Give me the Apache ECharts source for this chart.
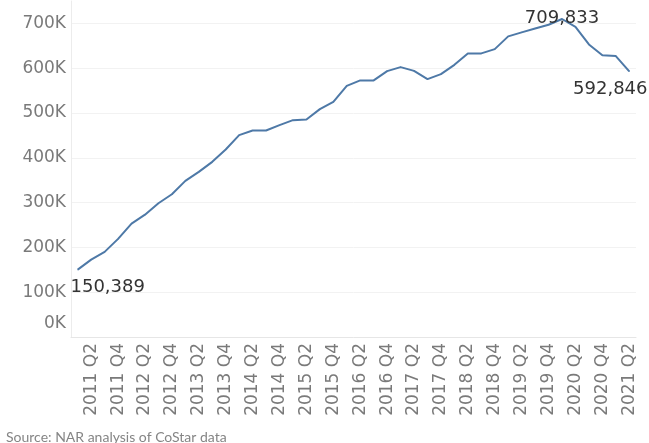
<!DOCTYPE html>
<html lang="en">
<head>
    <meta charset="UTF-8">
    <title>Sales volume by quarter</title>
    <style>
        body{margin:0;background-color:#FFFFFF}
        #main{width:649px;height:443px}
    </style>
</head>
<script src="https://cdn.jsdelivr.net/npm/echarts@6/dist/echarts.min.js"></script>
<body>
<div id="main"></div>
<script>
    // quarters, 2011 Q1 .. 2021 Q2 (only Q2/Q4 are labelled on the axis)
    var quarters = ['2011 Q1','2011 Q2','2011 Q3','2011 Q4','2012 Q1','2012 Q2','2012 Q3','2012 Q4',
        '2013 Q1','2013 Q2','2013 Q3','2013 Q4','2014 Q1','2014 Q2','2014 Q3','2014 Q4',
        '2015 Q1','2015 Q2','2015 Q3','2015 Q4','2016 Q1','2016 Q2','2016 Q3','2016 Q4',
        '2017 Q1','2017 Q2','2017 Q3','2017 Q4','2018 Q1','2018 Q2','2018 Q3','2018 Q4',
        '2019 Q1','2019 Q2','2019 Q3','2019 Q4','2020 Q1','2020 Q2','2020 Q3','2020 Q4',
        '2021 Q1','2021 Q2'];
    var values = [150389, 172800, 190000, 219000, 253000, 273000, 298600, 318700,
        348500, 368600, 391000, 418600, 450500, 461000, 461000, 472900,
        484000, 485600, 508600, 525000, 560700, 572700, 572700, 593500,
        602400, 594000, 575600, 586800, 607500, 633000, 633000, 642600,
        671000, 680000, 688800, 697000, 709833, 692400, 653000, 629000,
        627000, 592846];
    // which points carry a value label
    var labelled = [0, 36, 41];
    var yTicks = [0, 100000, 200000, 300000, 400000, 500000, 600000, 700000];

    var labelCfg = {
        0:  {show:true, position:'bottom', distance:8, offset:[30, 0]},
        36: {show:true, position:'inside', offset:[0, -1]},
        41: {show:true, position:'bottom', distance:8, offset:[-19, 0]}
    };
    var seriesData = [];
    for (var i = 0; i < values.length; i++) {
        if (labelled.indexOf(i) != -1) {
            seriesData.push({value: values[i], label: labelCfg[i]});
        } else {
            seriesData.push(values[i]);
        }
    }

    var myChart = echarts.init(document.getElementById('main'));
    myChart.setOption({
        animation: false,
        title: {
            text: 'Source: NAR analysis of CoStar data',
            left: 1,
            top: 425,
            textStyle: {fontFamily: 'Lato', fontSize: 14, fontWeight: 'normal', color: '#858585'}
        },
        grid: {left: 71, right: 13, top: 1, bottom: 106},
        xAxis: {
            type: 'category',
            data: quarters,
            boundaryGap: true,
            axisLine: {lineStyle: {color: '#e6e6e6'}},
            axisTick: {show: false},
            axisLabel: {
                rotate: 90,
                margin: 6,
                interval: function (index) { return index % 2 === 1; },
                fontFamily: 'DejaVu Sans',
                fontSize: 17,
                color: '#7a7a7a'
            },
            splitLine: {show: false}
        },
        yAxis: {
            type: 'value',
            min: 0,
            max: 750000,
            interval: 100000,
            axisLine: {show: true, lineStyle: {color: '#ececec'}},
            axisTick: {show: false},
            axisLabel: {
                margin: 5,
                fontFamily: 'DejaVu Sans',
                fontSize: 17,
                color: '#7a7a7a',
                formatter: function (v) {
                    if (yTicks.indexOf(v) == -1) return '';
                    if (v === 0) return '{z|0K}';
                    return (v / 1000) + 'K';
                },
                rich: {
                    z: {fontFamily: 'DejaVu Sans', fontSize: 17, color: '#7a7a7a', padding: [0, 0, 26, 0]}
                }
            },
            splitLine: {show: true, showMaxLine: false, lineStyle: {color: '#f2f2f2', width: 1}}
        },
        series: [{
            type: 'line',
            data: seriesData,
            clip: false,
            symbol: 'circle',
            symbolSize: 1,
            showAllSymbol: true,
            lineStyle: {color: '#4e79a7', width: 2},
            itemStyle: {color: '#4e79a7'},
            label: {
                show: false,
                fontFamily: 'DejaVu Sans',
                fontSize: 18,
                color: '#333333',
                formatter: function (p) { return p.value.toLocaleString('en-US'); }
            },
            emphasis: {disabled: true}
        }]
    });
</script>
</body>
</html>
